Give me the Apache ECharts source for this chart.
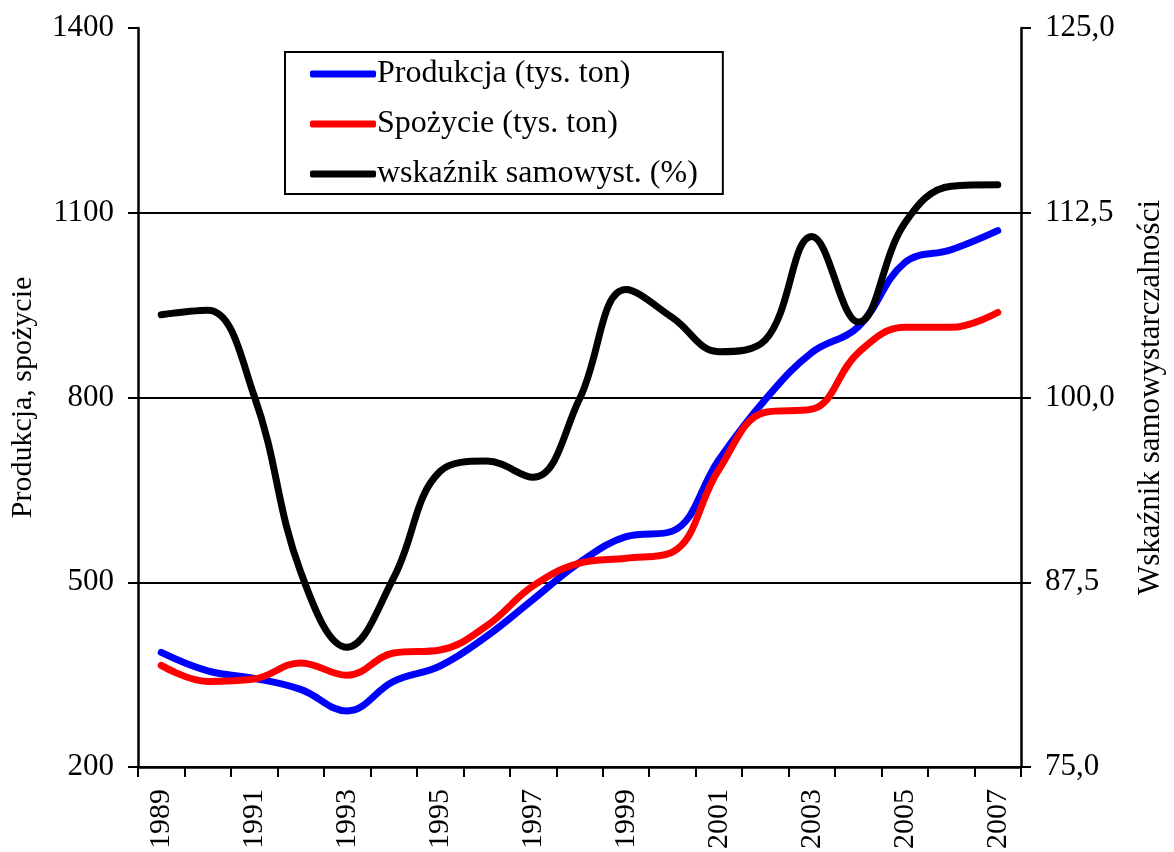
<!DOCTYPE html>
<html>
<head>
<meta charset="utf-8">
<title>Produkcja i spożycie</title>
<script src="https://cdn.jsdelivr.net/npm/echarts@6/dist/echarts.min.js"></script>
<style>
  html, body { margin: 0; padding: 0; background: #fff; }
  #chart { width: 1174px; height: 852px; }
</style>
</head>
<body>
<div id="chart"></div>
<script>
  // lata
  var years = ['1989', '1990', '1991', '1992', '1993', '1994', '1995', '1996', '1997', '1998',
    '1999', '2000', '2001', '2002', '2003', '2004', '2005', '2006', '2007'];

  // produkcja (tys. ton)
  var produkcja = [386, 356, 344, 326, 291, 339, 364, 412, 472, 532,
    574, 583, 699, 797, 873, 915, 1019, 1040, 1071];

  // spożycie (tys. ton)
  var spozycie = [365, 339, 343, 369, 349, 385, 390, 429, 494, 531,
    539, 549, 683, 776, 781, 873, 914, 914, 938];

  // wskaźnik samowystarczalności (%)
  var wskaznik = [105.6, 105.9, 100.1, 88.2, 83.1, 87.8, 95.0, 95.7, 94.6, 99.9,
    107.3, 105.4, 103.1, 103.9, 110.9, 105.1, 111.8, 114.3, 114.4];

  var font = "'Liberation Serif', 'Times New Roman', serif";

  var chart = echarts.init(document.getElementById('chart'));

  var option = {
    backgroundColor: '#fff',
    textStyle: { fontFamily: font, color: '#000' },
    grid: { left: 138, right: 152, top: 28, bottom: 84 },
    legend: {
      left: 285,
      top: 52,
      orient: 'vertical',
      padding: [5, 25, 3, 25],
      itemGap: 16,
      itemWidth: 66,
      itemHeight: 7,
      icon: 'roundRect',
      borderColor: '#000',
      borderWidth: 2,
      textStyle: { fontFamily: font, fontSize: 32, color: '#000', lineHeight: 34, padding: [0, 0, 0, -4] },
      data: ['Produkcja (tys. ton)', 'Spożycie (tys. ton)', 'wskaźnik samowyst. (%)']
    },
    xAxis: {
      type: 'category',
      data: years,
      boundaryGap: true,
      axisLine: { lineStyle: { color: '#000', width: 2.5 } },
      axisTick: { show: true, interval: 0, length: 10, lineStyle: { color: '#000', width: 2 } },
      axisLabel: { interval: 1, rotate: 90, margin: 22, fontFamily: font, fontSize: 30, color: '#000' },
      splitLine: { show: false }
    },
    yAxis: [
      {
        type: 'value',
        min: 200,
        max: 1400,
        interval: 300,
        name: 'Produkcja, spożycie',
        nameLocation: 'middle',
        nameRotate: 90,
        nameGap: 100,
        nameTextStyle: { fontFamily: font, fontSize: 30, color: '#000' },
        axisLine: { show: true, lineStyle: { color: '#000', width: 2.5 } },
        axisTick: { show: true, length: 10, lineStyle: { color: '#000', width: 2 } },
        axisLabel: {
          margin: 24, fontFamily: font, fontSize: 31, color: '#000',
          formatter: function (v) { return String(v); }
        },
        splitLine: { show: true, showMaxLine: false, lineStyle: { color: '#000', width: 2 } }
      },
      {
        type: 'value',
        min: 75,
        max: 125,
        interval: 12.5,
        position: 'right',
        name: 'Wskaźnik samowystarczalności',
        nameLocation: 'middle',
        nameRotate: 90,
        nameGap: 114,
        nameTextStyle: { fontFamily: font, fontSize: 31, color: '#000' },
        axisLine: { show: true, lineStyle: { color: '#000', width: 2.5 } },
        axisTick: { show: true, length: 10, lineStyle: { color: '#000', width: 2 } },
        axisLabel: {
          margin: 24, fontFamily: font, fontSize: 31, color: '#000',
          formatter: function (v) { return v.toFixed(1).replace('.', ','); }
        },
        splitLine: { show: false }
      }
    ],
    series: [
      {
        name: 'Produkcja (tys. ton)',
        type: 'line',
        yAxisIndex: 0,
        data: produkcja,
        smooth: 0.4,
        symbol: 'none',
        itemStyle: { color: '#0000ff' },
        lineStyle: { color: '#0000ff', width: 7, cap: 'round' }
      },
      {
        name: 'Spożycie (tys. ton)',
        type: 'line',
        yAxisIndex: 0,
        data: spozycie,
        smooth: 0.4,
        symbol: 'none',
        itemStyle: { color: '#ff0000' },
        lineStyle: { color: '#ff0000', width: 7, cap: 'round' }
      },
      {
        name: 'wskaźnik samowyst. (%)',
        type: 'line',
        yAxisIndex: 1,
        data: wskaznik,
        smooth: 0.4,
        symbol: 'none',
        itemStyle: { color: '#000' },
        lineStyle: { color: '#000', width: 7, cap: 'round' }
      }
    ]
  };

  chart.setOption(option);
</script>
</body>
</html>
